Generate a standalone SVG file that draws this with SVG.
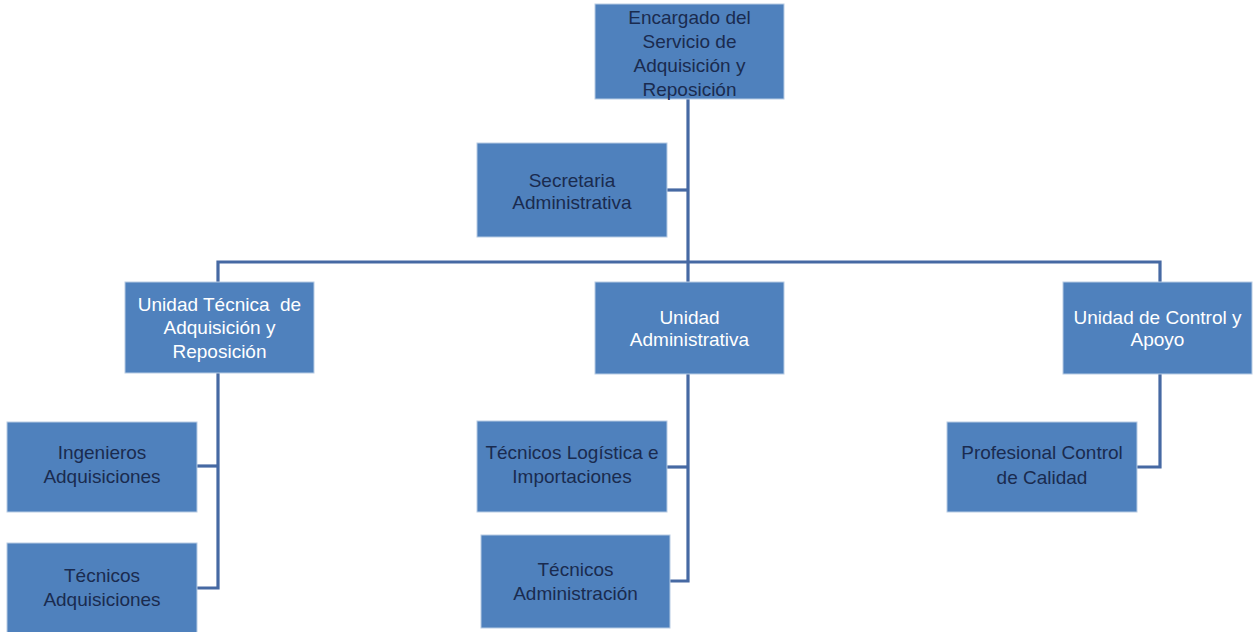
<svg xmlns="http://www.w3.org/2000/svg" width="1253" height="632" viewBox="0 0 1253 632">
  <style>
    .box { fill: #4f81bd; stroke: #b8cce4; stroke-width: 1; }
    .lbl { font-family: "Liberation Sans", Arial, sans-serif; font-size: 19px; text-anchor: middle; white-space: pre; }
    .dark { fill: #1a2b4f; }
    .light { fill: #ffffff; }
    .conn { fill: none; stroke: #4669a3; stroke-width: 3.2; stroke-linejoin: miter; }
  </style>
  <rect width="1253" height="632" fill="#ffffff"/>

  <!-- connectors -->
  <g id="connectors" class="conn">
    <path d="M688 99 V282"/>
    <path d="M667 190 H688"/>
    <path d="M218 282 V262 H1160 V282"/>
    <path d="M218 373 V588 H197"/>
    <path d="M197 466 H218"/>
    <path d="M688 374 V581 H670"/>
    <path d="M667 467 H688"/>
    <path d="M1160 374 V467 H1137"/>
  </g>

  <g id="encargado">
    <rect class="box" x="595" y="4" width="189" height="95"/>
    <text class="lbl dark"><tspan x="689.5" y="24">Encargado del</tspan><tspan x="689.5" y="48">Servicio de</tspan><tspan x="689.5" y="72">Adquisición y</tspan><tspan x="689.5" y="96">Reposición</tspan></text>
  </g>

  <g id="secretaria">
    <rect class="box" x="477" y="143" width="190" height="94"/>
    <text class="lbl dark"><tspan x="572" y="187">Secretaria</tspan><tspan x="572" y="209">Administrativa</tspan></text>
  </g>

  <g id="unidad-tecnica">
    <rect class="box" x="125" y="282" width="189" height="91"/>
    <text class="lbl light" xml:space="preserve"><tspan x="219.5" y="311">Unidad Técnica  de</tspan><tspan x="219.5" y="334">Adquisición y</tspan><tspan x="219.5" y="358">Reposición</tspan></text>
  </g>

  <g id="unidad-administrativa">
    <rect class="box" x="595" y="282" width="189" height="92"/>
    <text class="lbl light"><tspan x="689.5" y="324">Unidad</tspan><tspan x="689.5" y="346">Administrativa</tspan></text>
  </g>

  <g id="unidad-control">
    <rect class="box" x="1063" y="282" width="189" height="92"/>
    <text class="lbl light"><tspan x="1157.5" y="324">Unidad de Control y</tspan><tspan x="1157.5" y="346">Apoyo</tspan></text>
  </g>

  <g id="ingenieros">
    <rect class="box" x="7" y="422" width="190" height="90"/>
    <text class="lbl dark"><tspan x="102" y="459">Ingenieros</tspan><tspan x="102" y="483">Adquisiciones</tspan></text>
  </g>

  <g id="tecnicos-adquisiciones">
    <rect class="box" x="7" y="543" width="190" height="92"/>
    <text class="lbl dark"><tspan x="102" y="582">Técnicos</tspan><tspan x="102" y="606">Adquisiciones</tspan></text>
  </g>

  <g id="tecnicos-logistica">
    <rect class="box" x="477" y="421" width="190" height="91"/>
    <text class="lbl dark"><tspan x="572" y="459">Técnicos Logística e</tspan><tspan x="572" y="483">Importaciones</tspan></text>
  </g>

  <g id="tecnicos-administracion">
    <rect class="box" x="481" y="535" width="189" height="93"/>
    <text class="lbl dark"><tspan x="575.5" y="576">Técnicos</tspan><tspan x="575.5" y="600">Administración</tspan></text>
  </g>

  <g id="profesional-control">
    <rect class="box" x="947" y="422" width="190" height="90"/>
    <text class="lbl dark"><tspan x="1042" y="459">Profesional Control</tspan><tspan x="1042" y="484">de Calidad</tspan></text>
  </g>
</svg>
